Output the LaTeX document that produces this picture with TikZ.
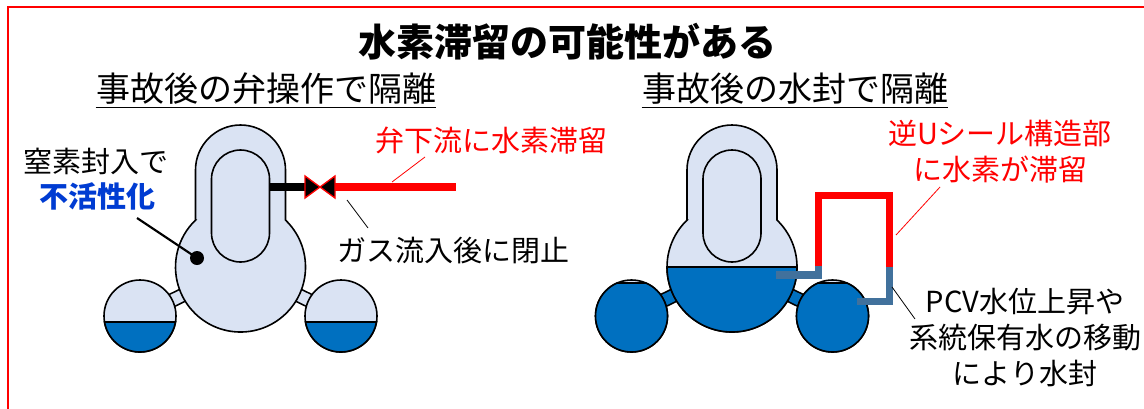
\documentclass[tikz,border=0pt]{standalone}
\usepackage{fontspec}
\setmainfont{Noto Sans CJK JP}
\definecolor{gasfill}{RGB}{218,227,243}
\definecolor{water}{RGB}{0,112,192}
\definecolor{sealblue}{RGB}{65,113,156}
\definecolor{inertblue}{RGB}{0,60,210}
\tikzset{
vessel/.style={draw,line width=1.2pt,fill=gasfill},
waterpart/.style={draw,line width=1.2pt,fill=water},
pipe/.style={line width=5.5pt,line join=miter},
valve/.style={fill=black,draw=red,line width=1pt},
leader/.style={line width=0.6pt},
note/.style={font=\fontsize{21.75}{27}\selectfont,align=center,inner sep=0pt},
subtitle/.style={font=\fontsize{25.5}{30}\selectfont,inner sep=0pt},
heading/.style={font=\bfseries\fontsize{28.5}{34}\selectfont,inner sep=0pt}}

\begin{document}
\begin{tikzpicture}[x=0.75pt,y=0.75pt]

\clip (0,0) rectangle (1144,-408);
\draw[red,line width=1.6pt] (8,-7) rectangle (1170,-440);

% headings
\node[heading] (title) at (567,-42) {水素滞留の可能性がある};
\node[subtitle] (sub1) at (266,-89) {事故後の弁操作で隔離};
\node[subtitle] (sub2) at (795,-89) {事故後の水封で隔離};
\foreach \s in {sub1,sub2}
	\draw[line width=1pt] ([yshift=-2pt]\s.south west) -- ([yshift=-2pt]\s.south east);

% vessel centres
\coordinate (bl) at (240.5,-267);
\coordinate (br) at (732,-267);
\coordinate (sl1) at (140,-316);
\coordinate (sl2) at (341,-316);
\coordinate (sr1) at (631.5,-316);
\coordinate (sr2) at (832.5,-316);

% stubs between the spheres
\foreach \a/\b/\c in {bl/sl1/gasfill,bl/sl2/gasfill,br/sr1/water,br/sr2/water} {
	\draw[line width=11pt] (\a) -- (\b);
	\draw[line width=8.5pt,\c] (\a) -- (\b);
}

% small spheres
\foreach \s in {sl1,sl2} {
	\filldraw[vessel] (\s) circle (36);
	\filldraw[waterpart] (\s) ++(189.6:36) arc[start angle=189.6,end angle=350.4,radius=36] -- cycle;
}
\foreach \s in {sr1,sr2} {
	\filldraw[vessel] (\s) circle (36);
	\filldraw[waterpart] (\s) ++(113.6:36) arc[start angle=113.6,end angle=426.4,radius=36] -- cycle;
}

% main body and inner capsule
\foreach \c in {bl,br}
	\filldraw[vessel] (\c) ++(-45,46.9) -- ++(0,50.1) arc[start angle=180,end angle=0,radius=45]
		-- ++(0,-50.1) arc[start angle=46.2,end angle=-226.2,radius=65] -- cycle;
\filldraw[waterpart] (br) ++(-65,0) arc[start angle=180,end angle=360,radius=65] -- cycle;
\foreach \c in {bl,br}
	\filldraw[vessel] (\c) ++(-29,34) -- ++(0,54) arc[start angle=180,end angle=0,radius=29]
		-- ++(0,-54) arc[start angle=0,end angle=-180,radius=29] -- cycle;

% line with valve
\coordinate (pin) at (270,-187);
\coordinate (v) at (320,-187);
\coordinate (vl) at (305,-187);
\coordinate (vr) at (335,-187);
\coordinate (pend) at (456,-187);
\draw[pipe] (pin) -- (vl);
\draw[pipe,red] (vr) -- (pend);
\filldraw[valve] (vl) ++(0,11) -- (v) -- ++(-15,-11) -- cycle;
\filldraw[valve] (vr) ++(0,11) -- (v) -- ++(15,-11) -- cycle;

% inverted U seal
\coordinate (ua) at (776,-275);
\coordinate (ub) at (818.5,-275);
\coordinate (uc) at (818.5,-266);
\coordinate (ud) at (818.5,-195.5);
\coordinate (ue) at (889.5,-195.5);
\coordinate (uf) at (889.5,-267);
\coordinate (ug) at (889.5,-301.5);
\coordinate (uh) at (857,-301.5);
\draw[pipe,red] (uc) -- (ud) -- (ue) -- (uf);
\draw[pipe,sealblue] (ua) -- (ub) -- (uc);
\draw[pipe,sealblue] (uh) -- (ug) -- (uf);

% notes
\node[note] (n2) at (96,-161) {窒素封入で};
\node[note,font=\bfseries\fontsize{21.75}{27}\selectfont,text=inertblue] (inert) at (97.5,-196) {不活性化};
\node[note,red] (h2v) at (491,-141) {弁下流に水素滞留};
\node[note] (shut) at (453,-251) {ガス流入後に閉止};
\node[note,red] (trap) at (1000,-152) {逆Uシール構造部\\に水素が滞留};
\node[note] (seal) at (1025,-338) {PCV水位上昇や\\系統保有水の移動\\により水封};

% leaders
\coordinate (dot) at (197,-258);
\coordinate (a1) at (137,-218);
\fill (dot) circle (7);
\draw[line width=1.6pt] (a1) -- (dot);
\coordinate (a2) at (392,-182);
\coordinate (a3) at (425,-157);
\draw[leader,red] (a2) -- (a3);
\coordinate (a4) at (347,-200);
\coordinate (a5) at (368,-228);
\draw[leader] (a4) -- (a5);
\coordinate (b1) at (896,-235);
\coordinate (b2) at (940,-187);
\draw[leader,red] (b1) -- (b2);
\coordinate (b3) at (892,-287);
\coordinate (b4) at (915,-319);
\draw[leader] (b3) -- (b4);
\end{tikzpicture}
\end{document}
